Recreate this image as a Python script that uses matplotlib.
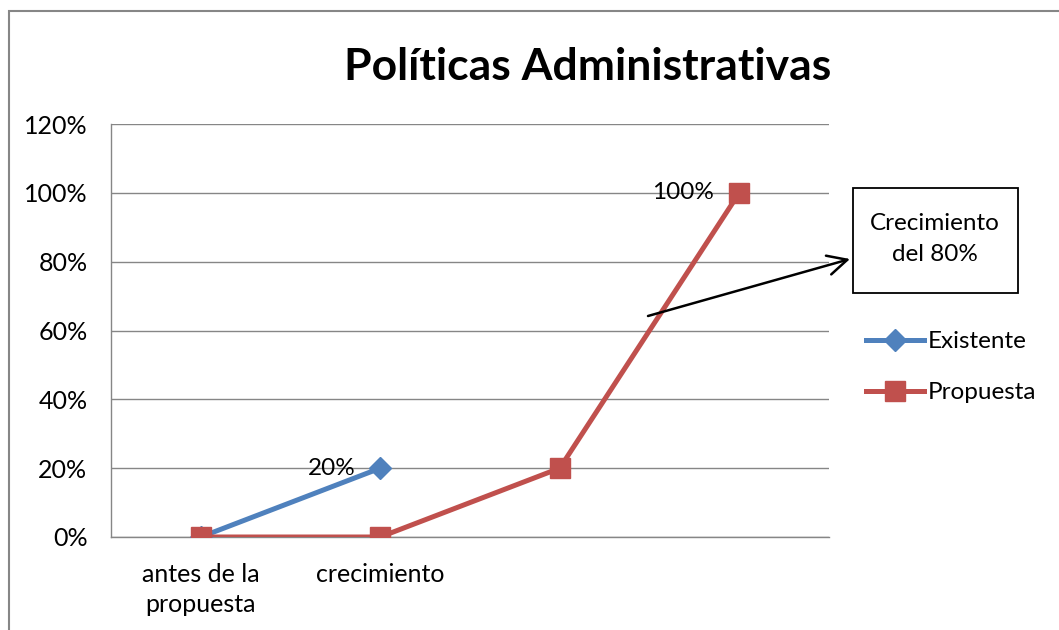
import matplotlib
matplotlib.use("Agg")
import matplotlib.pyplot as plt
from matplotlib.patches import Rectangle, FancyArrowPatch

plt.rcParams['font.family'] = ['Lato', 'DejaVu Sans']

categories = ["antes de la\npropuesta", "crecimiento", "", ""]
existente = [0.0, 0.2]
propuesta = [0.0, 0.0, 0.2, 1.0]
y_ticks = [0.0, 0.2, 0.4, 0.6, 0.8, 1.0, 1.2]

blue = '#4F81BD'
red = '#C0504D'
grid_gray = '#868686'

fig = plt.figure(figsize=(10.59, 6.30), dpi=100)
ax = fig.add_axes([111 / 1059, 1 - 537 / 630, 718 / 1059, 413 / 630])

x_ex = list(range(len(existente)))
x_pr = list(range(len(propuesta)))
ax.plot(x_ex, existente, color=blue, lw=3.6, marker='D', markersize=11,
        label='Existente', zorder=3)
ax.plot(x_pr, propuesta, color=red, lw=3.6, marker='s', markersize=14,
        label='Propuesta', zorder=4)

# data labels
ax.annotate(f"{existente[1]:.0%}", (x_ex[1], existente[1]), xytext=(-18, 0),
            textcoords='offset points', ha='right', va='center', fontsize=17.5)
ax.annotate(f"{propuesta[3]:.0%}", (x_pr[3], propuesta[3]), xytext=(-18, 0),
            textcoords='offset points', ha='right', va='center', fontsize=17.5)

ax.set_xlim(-0.5, 3.5)
ax.set_ylim(0, 1.2)
ax.set_yticks(y_ticks)
ax.set_yticklabels([f"{v:.0%}" for v in y_ticks], fontsize=18)
ax.set_xticks(range(len(categories)))
ax.set_xticklabels(categories, fontsize=18, linespacing=1.35)
ax.tick_params(length=0)
ax.tick_params(axis='x', pad=19)
ax.tick_params(axis='y', pad=17)
ax.grid(axis='y', color=grid_gray, lw=1)
ax.set_axisbelow(True)
for side in ['top', 'right']:
    ax.spines[side].set_visible(False)
for side in ['left', 'bottom']:
    ax.spines[side].set_color(grid_gray)
    ax.spines[side].set_linewidth(1)

fig.text(588 / 1059, 1 - 67 / 630, "Políticas Administrativas",
         ha='center', va='center', fontsize=32, fontweight='bold')

# annotation box and arrow
fig.text(935 / 1059, 1 - 239 / 630, "Crecimiento\ndel 80%", ha='center', va='center',
         fontsize=17.5, linespacing=1.55)
fig.add_artist(Rectangle((853 / 1059, 1 - 293 / 630), 165 / 1059, 105 / 630,
                         transform=fig.transFigure, fill=False, ec='black', lw=1.3))
fig.add_artist(FancyArrowPatch(
    (648 / 1059, 1 - 316 / 630), (850 / 1059, 1 - 259 / 630),
    transform=fig.transFigure, arrowstyle='->,head_length=0.7,head_width=0.35',
    mutation_scale=20, color='black', lw=1.8, shrinkA=0, shrinkB=0))

# outer chart border (clipped at right and bottom)
fig.add_artist(Rectangle((9 / 1059, -0.1), 1.2, 1.1 - 11 / 630,
                         transform=fig.transFigure, fill=False, ec=grid_gray, lw=1.5))

fig.legend(loc='upper left', bbox_to_anchor=(866 / 1059, 1 - 331 / 630),
           frameon=False, fontsize=17.5, handlelength=2.4, handletextpad=0.15,
           labelspacing=1.25, borderaxespad=0, borderpad=0)

fig.savefig('out.png', dpi=100)
